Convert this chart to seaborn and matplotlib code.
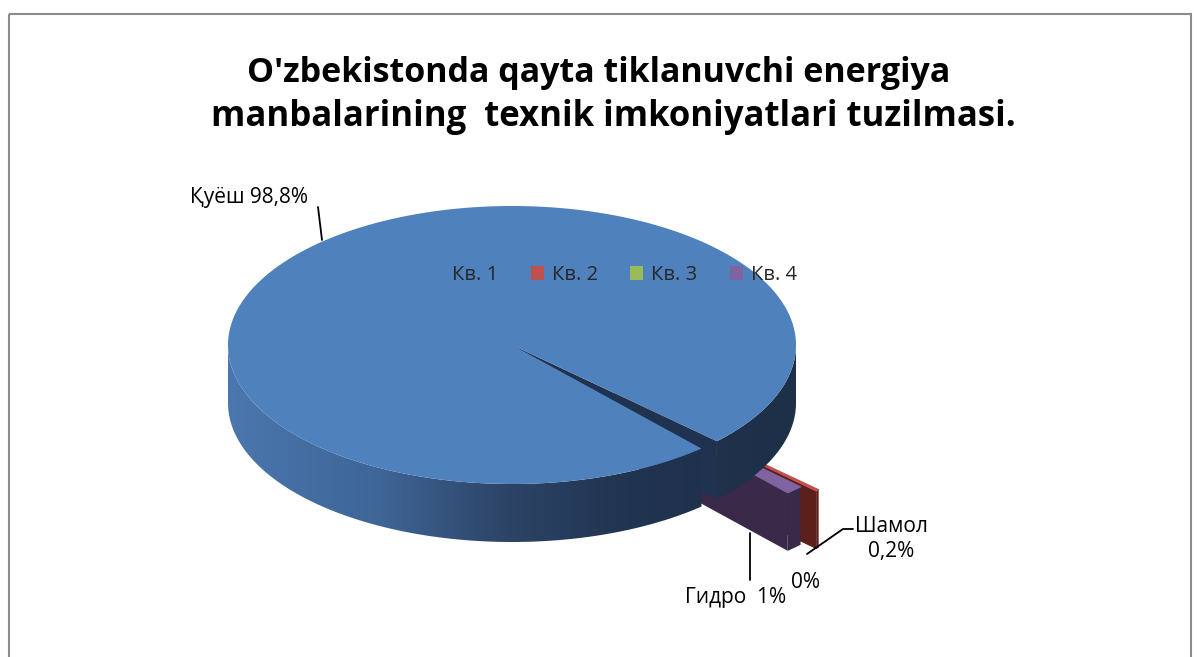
import numpy as np
import seaborn as sns
import matplotlib.pyplot as plt
from matplotlib.patches import Polygon, Rectangle
from matplotlib.colors import LinearSegmentedColormap

sns.set_theme(style="white")
plt.rcParams['font.family'] = ['Open Sans', 'DejaVu Sans']

# data
title_lines = ["O'zbekistonda qayta tiklanuvchi energiya",
               "manbalarining  texnik imkoniyatlari tuzilmasi."]
quarters = ['Кв. 1', 'Кв. 2', 'Кв. 3', 'Кв. 4']
shares = [98.8, 0.2, 0.0, 1.0]
labels = ['Қуёш 98,8%', 'Шамол\n0,2%', '0%', 'Гидро  1%']

# style
top_colors = ['#4f81bd', '#c0504d', '#9bbb59', '#8064a2']
face_colors = ['#1f3350', '#5c1f1a', '#4f6a26', '#3a2948']
explode = [0, 0.5, 0.44, 0.44]

# pie geometry (pixel space, y down)
cx, cy, rx, ry, depth = 512, 345, 284, 139, 58
group_mid = -46  # direction of the small slices

fig = plt.figure(figsize=(11.97, 6.57), dpi=100)
ax = fig.add_axes([0, 0, 1, 1])


def pt(r, th, off, z=0):
    t = np.radians(th)
    return (cx + rx * (off[0] + r * np.cos(t)),
            cy - ry * (off[1] + r * np.sin(t)) + z)


# slice angles, clockwise from start
total = sum(shares)
small = sum(shares[1:]) / total * 360
start = group_mid - small / 2 + 360
spans = []
acc = 0
for v in shares:
    a = v / total * 360
    spans.append((start - acc - a, start - acc))  # (lo, hi)
    acc += a

wall_cmap = LinearSegmentedColormap.from_list(
    'wall', [(0, '#4a77ae'), (0.27, '#3e6596'), (0.48, '#2d4568'),
             (0.7, '#213450'), (1, '#1e2f48')])
grad = np.linspace(0, 1, 256)[None, :]

for i, (lo, hi) in enumerate(spans):
    if shares[i] <= 0:
        continue
    mid = np.radians((lo + hi) / 2)
    off = (explode[i] * np.cos(mid), explode[i] * np.sin(mid))
    # the big slice sits on top, the exploded ones slide under it
    z_face, z_wall, z_top = (2.5, 3, 4) if i == 0 else (1.5 + 0.1 * i, 1.52 + 0.1 * i, 1.54 + 0.1 * i)

    # radial faces that look towards the viewer
    for th, ny in ((lo, -np.cos(np.radians(lo))), (hi, np.cos(np.radians(hi)))):
        if ny < 0:
            quad = [pt(0, th, off), pt(1, th, off), pt(1, th, off, depth), pt(0, th, off, depth)]
            ax.add_patch(Polygon(quad, closed=True, fc=face_colors[i], ec='none', zorder=z_face))

    # outer wall, front part only
    ths = np.linspace(lo, hi, 800)
    front = np.sin(np.radians(ths)) <= 1e-9
    runs = []
    cur = []
    for th, f in zip(ths, front):
        if f:
            cur.append(th)
        elif cur:
            runs.append(cur)
            cur = []
    if cur:
        runs.append(cur)
    for run in runs:
        topa = [pt(1, th, off) for th in run]
        bota = [pt(1, th, off, depth) for th in run[::-1]]
        poly = Polygon(topa + bota, closed=True, zorder=z_wall)
        if i == 0:
            poly.set_facecolor('none')
            poly.set_edgecolor('none')
            ax.add_patch(poly)
            im = ax.imshow(grad, cmap=wall_cmap, aspect='auto', zorder=z_wall,
                           extent=(cx - rx, cx + rx, cy + ry + depth, cy - ry))
            im.set_clip_path(poly)
        else:
            poly.set_facecolor(face_colors[i])
            poly.set_edgecolor('none')
            ax.add_patch(poly)

    # top face
    ths = np.linspace(lo, hi, 800)
    top = [pt(0, lo, off)] + [pt(1, th, off) for th in ths]
    ax.add_patch(Polygon(top, closed=True, fc=top_colors[i],
                         ec=top_colors[i] if i else 'none', lw=0.8, zorder=z_top))

# data labels with leader lines
lab_kw = dict(fontsize=15, color='black', zorder=6)
ax.text(190, 198, labels[0], ha='left', va='center', **lab_kw)
ax.plot([318, 322], [207, 240], color='black', lw=1.3, zorder=5)
ax.text(891, 539, labels[1], ha='center', va='center', linespacing=1.25, **lab_kw)
ax.plot([807, 843, 853], [554, 529, 529], color='black', lw=1.3, zorder=5)
ax.text(805, 582, labels[2], ha='center', va='center', **lab_kw)
ax.text(736, 597, labels[3], ha='center', va='center', **lab_kw)
ax.plot([750, 750], [533, 580], color='black', lw=1.3, zorder=5)

# legend
handles = [Rectangle((0, 0), 1, 1, fc=c, ec='none') for c in top_colors]
ax.legend(handles, quarters, ncol=4, loc='center', frameon=False,
          bbox_to_anchor=(614 / 1197, 1 - 275 / 657), fontsize=14.5,
          handlelength=0.65, handleheight=0.65, handletextpad=0.4,
          columnspacing=1.6)

# title
ax.text(599, 73, title_lines[0], ha='center', va='center', fontsize=24.5,
        fontweight='bold', color='black')
ax.text(613, 117, title_lines[1], ha='center', va='center', fontsize=25,
        fontweight='bold', color='black')

# chart frame
ax.add_patch(Rectangle((9, 14), 1182, 700, fill=False, ec='#8c8c8c', lw=1.5, zorder=1))

ax.set_xlim(0, 1197)
ax.set_ylim(657, 0)
ax.axis('off')

fig.savefig('out.png', dpi=100, facecolor='white')
